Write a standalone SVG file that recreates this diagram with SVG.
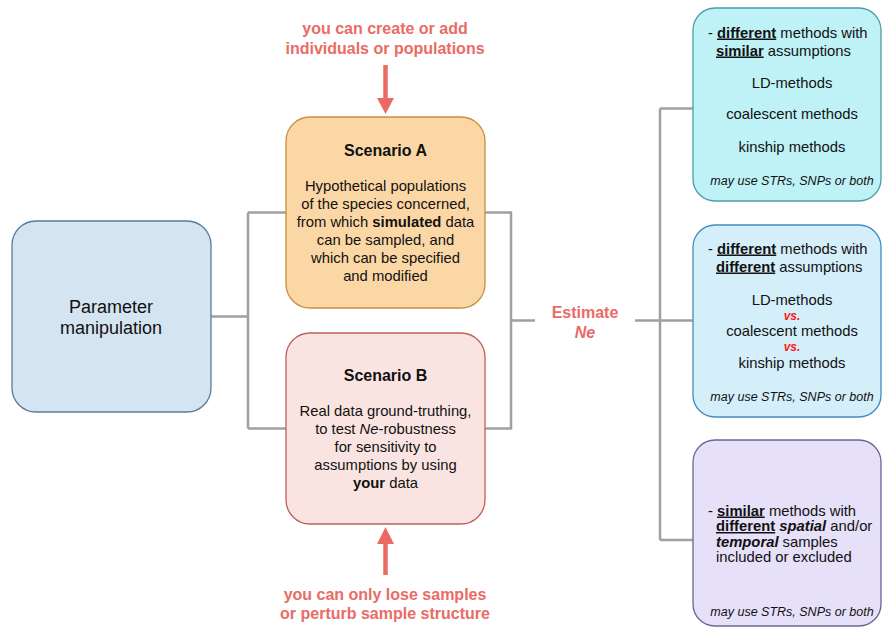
<svg xmlns="http://www.w3.org/2000/svg" width="882" height="627" viewBox="0 0 882 627">
<style>
text{font-family:"Liberation Sans",Arial,sans-serif;fill:#111;}
.c{text-anchor:middle;}
.b{font-weight:bold;}
.i{font-style:italic;}
.u{text-decoration:underline;}
.red{fill:#ea6b66;font-weight:bold;font-size:16px;}
.vs{fill:#ff1a1a;font-weight:bold;font-style:italic;font-size:12px;}
.body{font-size:14.8px;}
.note{font-size:12.5px;font-style:italic;}
.conn{fill:none;stroke:#a0a0a0;stroke-width:2.5;}
.arr{fill:none;stroke:#ea6b66;stroke-width:4.5;}
</style>
<rect width="882" height="627" fill="#ffffff"/>
<g id="connectors">
<path class="conn" d="M211 316.5 H248 M248 212.5 V428.5 M248 212.5 H286 M248 428.5 H286"/>
<path class="conn" d="M485 212.5 H511 V428.5 H485 M511 320.5 H535"/>
<path class="conn" d="M635 320.5 H693 M660 108.5 V540 M660 108.5 H693 M660 540 H693"/>
<path class="arr" d="M385.5 65 V100"/>
<polygon points="377,98 394,98 385.5,114" fill="#ea6b66"/>
<path class="arr" d="M385.5 575 V542"/>
<polygon points="377,544 394,544 385.5,527" fill="#ea6b66"/>
</g>
<g id="label-top">
<text class="red c" x="385" y="34">you can create or add</text>
<text class="red c" x="385" y="54">individuals or populations</text>
</g>
<g id="label-bottom">
<text class="red c" x="385" y="600">you can only lose samples</text>
<text class="red c" x="385" y="619">or perturb sample structure</text>
</g>
<g id="param">
<rect x="12" y="221" width="199" height="191" rx="24" fill="#d5e4f1" stroke="#5a7b98" stroke-width="1.3"/>
<text class="c" x="111" y="312.5" font-size="18">Parameter</text>
<text class="c" x="111" y="333.5" font-size="18">manipulation</text>
</g>
<g id="scenarioA">
<rect x="286" y="117" width="199" height="191" rx="24" fill="#fcd7a6" stroke="#c98f3f" stroke-width="1.3"/>
<text class="c b" x="385.5" y="156" font-size="16">Scenario A</text>
<text class="c body" x="385.5" y="191">Hypothetical populations</text>
<text class="c body" x="385.5" y="209">of the species concerned,</text>
<text class="c body" x="385.5" y="227">from which <tspan class="b">simulated</tspan> data</text>
<text class="c body" x="385.5" y="245">can be sampled, and</text>
<text class="c body" x="385.5" y="263">which can be specified</text>
<text class="c body" x="385.5" y="281">and modified</text>
</g>
<g id="scenarioB">
<rect x="286" y="333" width="199" height="191" rx="24" fill="#fae4e1" stroke="#c0605c" stroke-width="1.3"/>
<text class="c b" x="385.5" y="381" font-size="16">Scenario B</text>
<text class="c body" x="385.5" y="416">Real data ground-truthing,</text>
<text class="c body" x="385.5" y="434">to test <tspan class="i">Ne</tspan>-robustness</text>
<text class="c body" x="385.5" y="452">for sensitivity to</text>
<text class="c body" x="385.5" y="470">assumptions by using</text>
<text class="c body" x="385.5" y="488"><tspan class="b">your</tspan> data</text>
</g>
<g id="estimate">
<text class="red c" x="585" y="318">Estimate</text>
<text class="red c i" x="585" y="338">Ne</text>
</g>
<g id="box1">
<rect x="693" y="8" width="188" height="193" rx="22" fill="#bff2f7" stroke="#4a9ea8" stroke-width="1.3"/>
<text class="body" x="708" y="37.5">- <tspan class="b u">different</tspan> methods with</text>
<text class="body" x="716" y="55.5"><tspan class="b u">similar</tspan> assumptions</text>
<text class="c body" x="792" y="87.5">LD-methods</text>
<text class="c body" x="792" y="118.5">coalescent methods</text>
<text class="c body" x="792" y="151.5">kinship methods</text>
<text class="c note" x="792" y="184.5">may use STRs, SNPs or both</text>
</g>
<g id="box2">
<rect x="693" y="225" width="188" height="192" rx="22" fill="#d4eefa" stroke="#3f8cbf" stroke-width="1.3"/>
<text class="body" x="708" y="253.5">- <tspan class="b u">different</tspan> methods with</text>
<text class="body" x="716" y="271.5"><tspan class="b u">different</tspan> assumptions</text>
<text class="c body" x="792" y="304.5">LD-methods</text>
<text class="c vs" x="792" y="320">vs.</text>
<text class="c body" x="792" y="335.5">coalescent methods</text>
<text class="c vs" x="792" y="351">vs.</text>
<text class="c body" x="792" y="367.5">kinship methods</text>
<text class="c note" x="792" y="400.5">may use STRs, SNPs or both</text>
</g>
<g id="box3">
<rect x="693" y="440" width="188" height="186" rx="22" fill="#e6e0f9" stroke="#6f6394" stroke-width="1.3"/>
<text class="body" x="708" y="515.5">- <tspan class="b u">similar</tspan> methods with</text>
<text class="body" x="716" y="531"><tspan class="b u">different</tspan> <tspan class="b i">spatial</tspan> and/or</text>
<text class="body" x="716" y="546.5"><tspan class="b i">temporal</tspan> samples</text>
<text class="body" x="716" y="562">included or excluded</text>
<text class="c note" x="792" y="616">may use STRs, SNPs or both</text>
</g>
</svg>
